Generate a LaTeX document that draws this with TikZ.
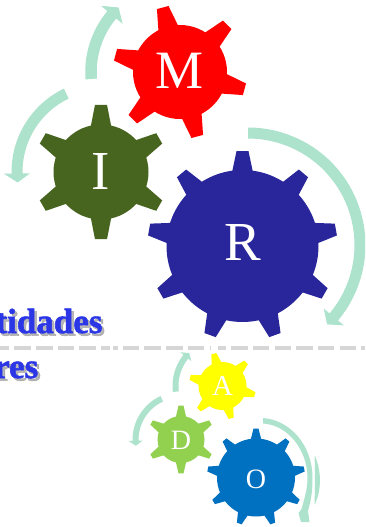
\documentclass[tikz,border=0pt]{standalone}
\usepackage{fontspec}
\setmainfont{Liberation Serif}
\newfontfamily\headfont[FakeBold=1.6]{Liberation Serif Bold}
\usetikzlibrary{calc}
\definecolor{arrowc}{HTML}{ADE3CC}
\definecolor{dashc}{HTML}{D6D6D6}
\definecolor{gM}{HTML}{FF0000}
\definecolor{gI}{HTML}{47651E}
\definecolor{gR}{HTML}{28269A}
\definecolor{gA}{HTML}{FFFF00}
\definecolor{gD}{HTML}{92D050}
\definecolor{gO}{HTML}{0070C0}
\definecolor{txtb}{HTML}{2B36E6}
\tikzset{
  gearbody/.style={circle,inner sep=0pt,outer sep=0pt},
  letter/.style={text=white,inner sep=0pt,anchor=base},
  bluetxt/.style={inner sep=0pt,anchor=base west,font=\headfont\fontsize{35}{35}\selectfont},
}
% name, cx, cy, body r, tip r, teeth, first angle, base half, tip half, colour
\newcommand{\mygear}[9]{%
  \node[gearbody,fill=#9,minimum size=2*#3 pt] (#1) at (#2) {};
  \pgfmathsetmacro{\mystep}{360/#5}
  \pgfmathsetmacro{\myba}{asin(#7/#3)}
  \pgfmathsetmacro{\myta}{asin(#8/#4)}
  \foreach \k in {1,...,#5}{
    \pgfmathsetmacro{\ma}{#6+(\k-1)*\mystep}
    \fill[#9] ($(#2)+(\ma-\myba:#3-1)$) -- ($(#2)+(\ma-\myta:#4)$) -- ($(#2)+(\ma+\myta:#4)$) -- ($(#2)+(\ma+\myba:#3-1)$) -- cycle;
  }
}
% cx, cy, r, t0, t1, width, head half, head length
\newcommand{\myarc}[8]{%
  \pgfmathsetmacro{\ro}{#3+#6/2}
  \pgfmathsetmacro{\ri}{#3-#6/2}
  \pgfmathsetmacro{\rbo}{#3+#7}
  \pgfmathsetmacro{\rbi}{#3-#7}
  \pgfmathsetmacro{\ttip}{#5+(#5>#4?1:-1)*#8/#3*57.3}
  \fill[arrowc] plot[domain=#4:#5,samples=40] ({#1+\ro*cos(\x)},{#2+\ro*sin(\x)})
    -- ({#1+\rbo*cos(#5)},{#2+\rbo*sin(#5)})
    -- ({#1+#3*cos(\ttip)},{#2+#3*sin(\ttip)})
    -- ({#1+\rbi*cos(#5)},{#2+\rbi*sin(#5)})
    -- plot[domain=#5:#4,samples=40] ({#1+\ri*cos(\x)},{#2+\ri*sin(\x)}) -- cycle;
}
\begin{document}
\begin{tikzpicture}[x=1pt,y=-1pt]
\useasboundingbox (0,0) rectangle (365,527);
\clip (0,0) rectangle (365,527);
\fill[white] (0,0) rectangle (365,527);
% headline fragments
\node[bluetxt,text=black!40,opacity=.7] (s1) at (-2.2,335.6) {tidades};
\node[bluetxt,text=black!40,opacity=.7] (s2) at (-3.4,380.6) {res};
\node[bluetxt,text=txtb] (t1) at (-4.7,333) {tidades};
\node[bluetxt,text=txtb] (t2) at (-6,378) {res};
% dashed rule
\coordinate (ruleL) at (-7.2,348);
\coordinate (ruleR) at (365,348);
\draw[dashc,line width=4.6pt,dash pattern=on 16.5pt off 5.17pt] (ruleL) -- (ruleR);
\fill[white] (110,345) rectangle (113,351);
\fill[white] (211,344) rectangle (218,352);
% arrows
\myarc{180}{72}{89}{-184.5}{-140}{11.5}{14}{10}
\myarc{104}{172}{87}{-115.7}{-181}{11}{13}{9}
\myarc{248}{245}{112}{-90}{40}{11}{13}{10}
\myarc{222}{386}{46.5}{-187}{-141}{6}{7}{5}
\myarc{181}{440}{45.5}{-115}{-181}{6}{7}{5}
\fill[arrowc] (263,418) .. controls (290,420) and (312.5,445) .. (312.5,478) .. controls (312.5,492) and (311,500) .. (308,511)
  -- (309.5,522) -- (301,522) -- (298.5,513) -- (301.5,509) .. controls (305,497) and (307.5,488) .. (307.5,478) .. controls (307.5,450) and (288,425) .. (263,423.5) -- cycle;
\fill[arrowc] (314.5,455) .. controls (321.5,470) and (322,490) .. (314.5,505) .. controls (315,490) and (315.2,470) .. (314.5,455) -- cycle;
% gears
\mygear{M}{180,72}{47}{67}{6}{-105}{10.5}{6}{gM}
\mygear{I}{101,172}{47.5}{67.5}{6}{-90}{10.5}{6}{gI}
\mygear{R}{242.5,246}{76}{95}{9}{-90}{10.5}{6}{gR}
\mygear{A}{222.5,386}{24}{33.5}{6}{-105}{5.5}{2.5}{gA}
\mygear{D}{181,439.5}{23.5}{34}{6}{-90}{5.5}{2.5}{gD}
\mygear{O}{256,477.5}{39}{49}{9}{-90}{5.5}{2.5}{gO}
% letters
\node[letter,font=\fontsize{54}{54}\selectfont] (lM) at (180,88.5) {M};
\node[letter,font=\fontsize{55}{55}\selectfont] (lI) at (101,189.3) {I};
\node[letter,font=\fontsize{55}{55}\selectfont] (lR) at (242.7,260.7) {R};
\node[letter,font=\fontsize{29}{29}\selectfont] (lA) at (222.7,395.7) {A};
\node[letter,font=\fontsize{28}{28}\selectfont] (lD) at (181,449) {D};
\node[letter,font=\fontsize{28}{28}\selectfont] (lO) at (256,488) {O};
\end{tikzpicture}
\end{document}
